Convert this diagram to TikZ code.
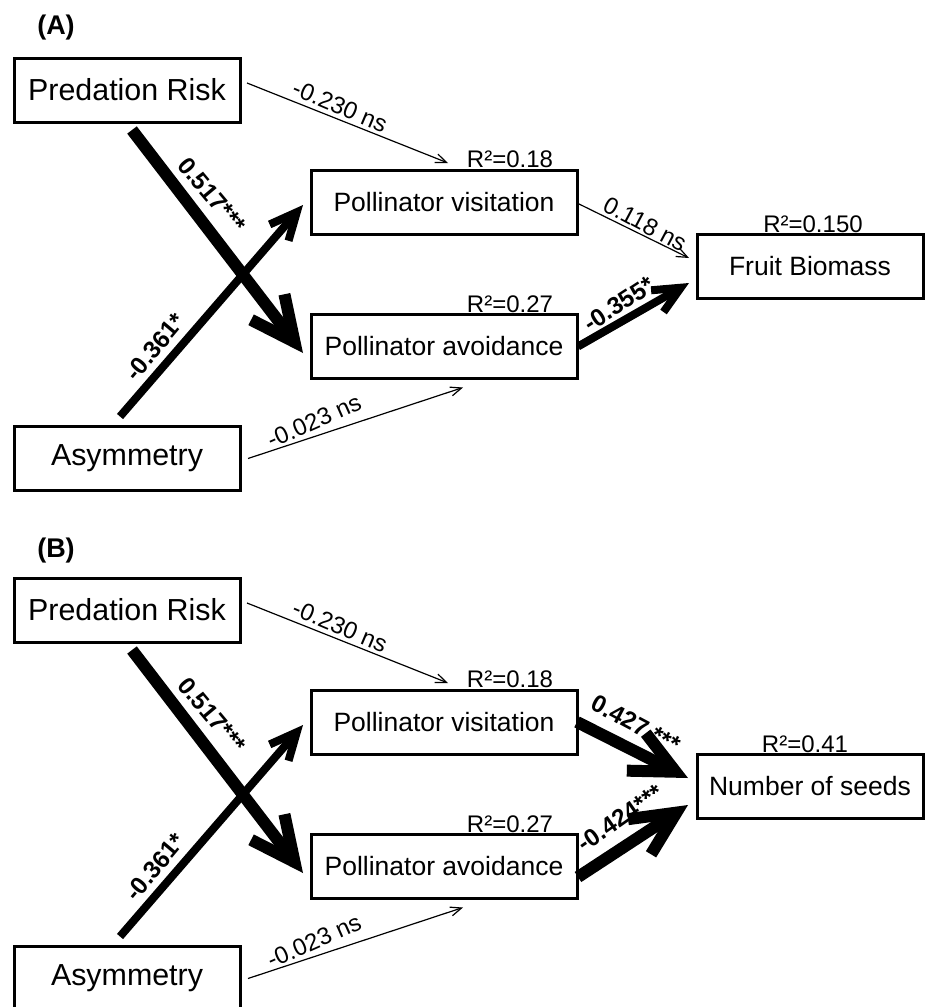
\documentclass[tikz,border=0pt]{standalone}
\usepackage{fontspec}
\setmainfont{Liberation Sans}
\usetikzlibrary{arrows.meta,calc}
\begin{document}
\begin{tikzpicture}[x=0.5pt,y=-0.5pt,
  box/.style={draw, line width=1.5pt, minimum height=32pt, inner sep=0pt, outer sep=0pt,
    font=\fontsize{13.25pt}{15pt}\selectfont},
  bigbox/.style={box, font=\fontsize{15.2pt}{18pt}\selectfont},
  rlab/.style={anchor=base, inner sep=0pt, font=\fontsize{12pt}{14pt}\selectfont},
  lab/.style={inner sep=0pt, font=\fontsize{12pt}{14pt}\selectfont},
  blab/.style={inner sep=0pt, font=\fontsize{12.2pt}{14pt}\selectfont\bfseries},
  panel/.style={inner sep=0pt, font=\fontsize{13.5pt}{16pt}\selectfont\bfseries},
  thinedge/.style={line width=0.6pt, -{Straight Barb[length=5.5pt,width=4.5pt]}},
  midedge/.style={line width=4pt, -{Straight Barb[length=13.5pt,width=12.5pt]}},
  bigedge/.style={line width=6pt, -{Straight Barb[length=22pt,width=21pt]}}
]
\useasboundingbox (0,0) rectangle (925,1007);
\clip (0,0) rectangle (925,1007);

% ---------------- Panel A ----------------
\node[panel] (la) at (56,28) {(A)};
\node[bigbox, minimum width=113pt] (pra) at (127,90) {Predation Risk};
\node[box, minimum width=133pt] (pva) at (444,202) {Pollinator visitation};
\node[box, minimum width=133pt] (paa) at (444,346.5) {Pollinator avoidance};
\node[box, minimum width=113pt] (fba) at (810,266) {Fruit Biomass};
\node[bigbox, minimum width=113pt] (asa) at (127,458.5) {Asymmetry};

\node[rlab] (rpva) at (510,167) {R²=0.18};
\node[rlab] (rpaa) at (510,312) {R²=0.27};
\node[rlab] (rfba) at (813,232) {R²=0.150};

\draw[thinedge] ($(pra.east)+(7,-7)$) -- ($(pva.north)+(4,-7)$);
\draw[bigedge] ($(pra.south)+(5,8)$) -- ($(paa.west)+(-8,6.5)$);
\draw[midedge] ($(asa.north)+(-7,-10)$) -- ($(pva.west)+(-8,3)$);
\draw[thinedge] ($(asa.east)+(8,0)$) -- ($(paa.south)+(19,9)$);
\draw[thinedge] ($(pva.east)+(0,1)$) -- ($(fba.west)+(-8,-8)$);
\draw[midedge] ($(paa.east)+(1,0)$) -- ($(fba.west)+(-8,17)$);

\node[lab, rotate=-23] (e1a) at (340,106) {-0.230 ns};
\node[blab, rotate=-50] (e2a) at (212,195) {0.517***};
\node[blab, rotate=50] (e3a) at (155,347) {-0.361*};
\node[lab, rotate=24] (e4a) at (314,421) {-0.023 ns};
\node[lab, rotate=-28] (e5a) at (645,224) {0.118 ns};
\node[blab, rotate=33] (e6a) at (619,304) {-0.355*};

% ---------------- Panel B ----------------
\node[panel] (lb) at (56,551) {(B)};
\node[bigbox, minimum width=113pt] (prb) at (127,610) {Predation Risk};
\node[box, minimum width=133pt] (pvb) at (444,722) {Pollinator visitation};
\node[box, minimum width=133pt] (pab) at (444,866.5) {Pollinator avoidance};
\node[box, minimum width=113pt] (nsb) at (810,786.5) {Number of seeds};
\node[bigbox, minimum width=113pt] (asb) at (127,978.5) {Asymmetry};

\node[rlab] (rpvb) at (510,687) {R²=0.18};
\node[rlab] (rpab) at (510,832) {R²=0.27};
\node[rlab] (rnsb) at (805,752) {R²=0.41};

\draw[thinedge] ($(prb.east)+(7,-7)$) -- ($(pvb.north)+(4,-7)$);
\draw[bigedge] ($(prb.south)+(5,8)$) -- ($(pab.west)+(-8,6.5)$);
\draw[midedge] ($(asb.north)+(-7,-10)$) -- ($(pvb.west)+(-8,3)$);
\draw[thinedge] ($(asb.east)+(8,0)$) -- ($(pab.south)+(19,9)$);
\draw[bigedge] (pvb.east) -- ($(nsb.west)+(-9,-8.5)$);
\draw[bigedge] ($(pab.east)+(1,10.5)$) -- ($(nsb.west)+(-9,18.5)$);

\node[lab, rotate=-23] (e1b) at (340,626) {-0.230 ns};
\node[blab, rotate=-50] (e2b) at (212,715) {0.517***};
\node[blab, rotate=50] (e3b) at (155,867) {-0.361*};
\node[lab, rotate=24] (e4b) at (314,941) {-0.023 ns};
\node[blab, rotate=-28] (e5b) at (636,724) {0.427 ***};
\node[blab, rotate=35] (e6b) at (620,818) {-0.424***};
\end{tikzpicture}
\end{document}
